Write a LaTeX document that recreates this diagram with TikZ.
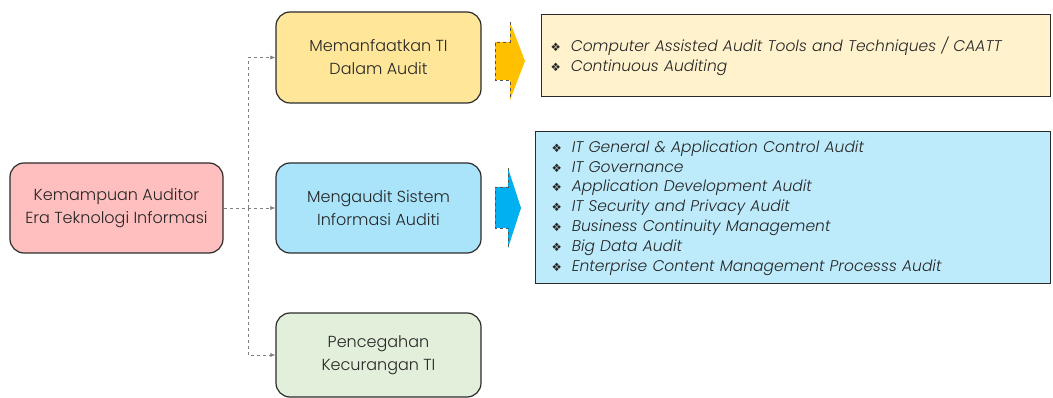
\documentclass[tikz,border=0pt]{standalone}
\usepackage{fontspec}
\usetikzlibrary{arrows.meta}
\setmainfont{Poppins}[UprightFont=* Light, ItalicFont=* Light Italic]
\newfontfamily\symfont{DejaVu Sans}
\definecolor{pinkfill}{HTML}{FFBFBF}
\definecolor{yelfill}{HTML}{FFE699}
\definecolor{bluefill}{HTML}{A9E4FB}
\definecolor{greenfill}{HTML}{E2EFDA}
\definecolor{lyel}{HTML}{FFF2CC}
\definecolor{lblue}{HTML}{BDEBFB}
\definecolor{arrY}{HTML}{FFC000}
\definecolor{arrB}{HTML}{00B0F0}
\definecolor{edge}{HTML}{2B2B2B}
\newcommand{\itm}{{\symfont\fontsize{11.5}{14}\selectfont ❖}\hspace{10pt}}
\begin{document}
\begin{tikzpicture}[x=1pt,y=-1pt,
  mainbox/.style={draw=edge, line width=1.2pt, rounded corners=14pt, align=center,
    font=\fontsize{16}{23}\selectfont, text=black!85},
  listbox/.style={draw=edge, line width=1pt, align=left, anchor=west,
    font=\fontsize{15.5}{19.8}\selectfont\itshape, text=black!85},
  conn/.style={draw=gray, dashed, line width=0.6pt, -{Latex[length=5pt,width=4pt]}},
  blockarr/.style={draw=edge!80, dashed, line width=0.6pt}
]
\useasboundingbox (0,0) rectangle (1053,398);
\node[mainbox, fill=pinkfill, minimum width=213pt, minimum height=90pt] (L) at (116.5,208) {Kemampuan Auditor\\Era Teknologi Informasi};
\node[mainbox, fill=yelfill, minimum width=205pt, minimum height=91pt] (T) at (378.5,57.5) {Memanfaatkan TI\\Dalam Audit};
\node[mainbox, fill=bluefill, minimum width=205pt, minimum height=90pt] (M) at (378.5,208) {Mengaudit Sistem\\Informasi Auditi};
\node[mainbox, fill=greenfill, minimum width=205pt, minimum height=84pt] (B) at (378.5,355) {Pencegahan\\Kecurangan TI};

\coordinate (j) at (248,208);
\draw[conn] (L.east) -- (M.west);
\draw[conn] (j) |- (T.west);
\draw[conn] (j) |- (B.west);

\node[listbox, fill=lyel, inner xsep=9pt, minimum width=509pt, minimum height=82pt, text width=491pt] (RT) at (541,56)
 {\itm Computer Assisted Audit Tools and Techniques / CAATT\\
  \itm Continuous Auditing};
\node[listbox, fill=lblue, inner xsep=16pt, minimum width=515pt, minimum height=152pt, text width=483pt] (RM) at (535,208)
 {\itm IT General \& Application Control Audit\\
  \itm IT Governance\\
  \itm Application Development Audit\\
  \itm IT Security and Privacy Audit\\
  \itm Business Continuity Management\\
  \itm Big Data Audit\\
  \itm Enterprise Content Management Processs Audit};

\fill[arrY] (495,42) -- (510,42) -- (510,22) -- (525,61) -- (510,100) -- (510,80) -- (495,80) -- cycle;
\draw[blockarr] (510,22) -- (510,42) -- (495,42) -- (495,80) -- (510,80) -- (510,100);
\fill[arrB] (495,187) -- (508,187) -- (508,168) -- (521,208) -- (508,248) -- (508,228) -- (495,228) -- cycle;
\draw[blockarr] (508,168) -- (508,187) -- (495,187) -- (495,228) -- (508,228) -- (508,248);
\end{tikzpicture}
\end{document}
